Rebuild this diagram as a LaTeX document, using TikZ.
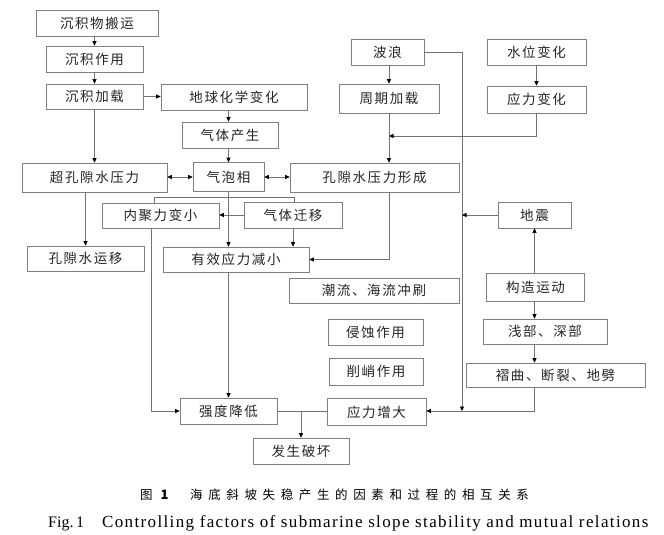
\documentclass[tikz,border=0pt]{standalone}
\usepackage{fontspec}
\setmainfont{Liberation Serif}
\newfontfamily\capfont{Liberation Serif}[LetterSpace=8]
\newfontfamily\cjk{Noto Sans CJK SC}[LetterSpace=12]
\newfontfamily\cjkcap{Noto Sans CJK SC}[LetterSpace=45]
\newfontfamily\cjkplain{Noto Sans CJK SC}
\usetikzlibrary{arrows.meta}
\begin{document}
\begin{tikzpicture}[x=1pt,y=-1pt,
  box/.style={draw=black!50, line width=0.6pt, inner sep=0pt, font=\cjk\fontsize{13.5}{15}\selectfont, text=black!85},
  ln/.style={draw=black!55, line width=0.6pt},
  arr/.style={ln, -{Triangle[length=4.5pt,width=4pt,color=black]}},
  darr/.style={ln, {Triangle[length=4.5pt,width=4pt,color=black]}-{Triangle[length=4.5pt,width=4pt,color=black]}},
  sz/.style 2 args={minimum width=#1pt, minimum height=#2pt}]
\useasboundingbox (0,0) rectangle (664,535);
\fill[white] (0,0) rectangle (664,535);

% boxes
\node[box,sz={122}{26}] (dep1) at (97,23) {沉积物搬运};
\node[box,sz={97}{26}]  (dep2) at (94.5,59) {沉积作用};
\node[box,sz={97}{25}]  (dep3) at (94.5,96.5) {沉积加载};
\node[box,sz={146}{26}] (geo)  at (234,97) {地球化学变化};
\node[box,sz={96}{26}]  (gas)  at (230,135) {气体产生};
\node[box,sz={145}{29}] (epp)  at (94.5,177.5) {超孔隙水压力};
\node[box,sz={71}{29}]  (bub)  at (228.5,177) {气泡相};
\node[box,sz={169}{29}] (ppf)  at (374.5,177.5) {孔隙水压力形成};
\node[box,sz={73}{26}]  (wave) at (387.5,52) {波浪};
\node[box,sz={100}{29}] (cyc)  at (389,98.5) {周期加载};
\node[box,sz={99}{26}]  (wl)   at (536.5,52) {水位变化};
\node[box,sz={99}{27}]  (sc)   at (536.5,99.5) {应力变化};
\node[box,sz={117}{25}] (coh)  at (160.5,215.5) {内聚力变小};
\node[box,sz={98}{26}]  (gm)   at (293,215) {气体迁移};
\node[box,sz={117}{25}] (pwm)  at (85.5,258.5) {孔隙水运移};
\node[box,sz={146}{25}] (eff)  at (236,259.5) {有效应力减小};
\node[box,sz={73}{26}]  (eq)   at (534.5,215) {地震};
\node[box,sz={98}{28}]  (tec)  at (535.5,287) {构造运动};
\node[box,sz={170}{25}] (tide) at (374,290.5) {潮流、海流冲刷};
\node[box,sz={95}{26}]  (ero)  at (375.5,332) {侵蚀作用};
\node[box,sz={124}{25}] (sd)   at (545,331.5) {浅部、深部};
\node[box,sz={94}{27}]  (cut)  at (376,371.5) {削峭作用};
\node[box,sz={179}{24}] (fold) at (555.5,375) {褶曲、断裂、地劈};
\node[box,sz={97}{26}]  (str)  at (228.5,411) {强度降低};
\node[box,sz={99}{27}]  (si)   at (376.5,412) {应力增大};
\node[box,sz={96}{26}]  (fail) at (301,451) {发生破坏};

% helper coordinates
\coordinate (brL) at (154,197);
\coordinate (brR) at (294,197);
\coordinate (vx)  at (462,411);
\coordinate (jn)  at (389,136);

% connectors
\draw[arr] (dep2.north |- dep1.south) -- (dep2.north);
\draw[arr] (dep2.south) -- (dep3.north);
\draw[arr] (dep3.east) -- (dep3.east -| geo.west);
\draw[arr] (dep3.south) -- (dep3.south |- epp.north);
\draw[arr] (bub.north |- geo.south) -- (bub.north |- gas.north);
\draw[arr] (bub.north |- gas.south) -- (bub.north);
\draw[darr] (bub.west -| epp.east) -- (bub.west);
\draw[darr] (bub.east) -- (bub.east -| ppf.west);
\draw[arr] (bub.south) -- (bub.south |- eff.north);
\draw[ln] (coh.north -| brL) -- (brL) -- (brR) -- (gm.north -| brR);
\draw[arr] (gm.west) -- (gm.west -| coh.east);
\draw[arr] (gm.south) -- (gm.south |- eff.north);
\draw[arr] (ppf.south -| cyc.south) -- (cyc.south |- eff.east) -- (eff.east);
\draw[arr] (epp.south -| pwm.north) -- (pwm.north);
\draw[arr] ([xshift=-9pt]coh.south) -- ([xshift=-9pt]coh.south |- str.west) -- (str.west);
\draw[arr] (eff.south -| str.north) -- (str.north);
\draw[ln] (str.east) -- (str.east -| si.west);
\draw[arr] (str.east -| fail.north) -- (fail.north);
\draw[arr] (wave.east) -- (wave.east -| vx) -- (vx);
\draw[arr] (cyc.north |- wave.south) -- (cyc.north);
\draw[arr] (wl.south) -- (wl.south |- sc.north);
\draw[arr] (sc.south) -- (sc.south |- jn) -- (jn);
\draw[arr] (cyc.south) -- (cyc.south |- ppf.north);
\draw[arr] (eq.west) -- (eq.west -| vx);
\draw[arr] (eq.south |- tec.north) -- (eq.south);
\draw[arr] (eq.south |- tec.south) -- (eq.south |- sd.north);
\draw[arr] (eq.south |- sd.south) -- (eq.south |- fold.north);
\draw[arr] (eq.south |- fold.south) -- (eq.south |- vx) -- (vx -| si.east);

% caption
\node[anchor=base west, inner sep=0pt, font=\cjkplain\fontsize{12.5}{14}\selectfont] (capfig) at (140,499) {图\hspace{8pt}\textbf{\fontsize{13}{14}\selectfont 1}};
\node[anchor=base west, inner sep=0pt, font=\cjkcap\fontsize{12.5}{14}\selectfont] (capcn) at (190,499) {海底斜坡失稳产生的因素和过程的相互关系};
\node[anchor=base west, inner sep=0pt, font=\fontsize{16}{18}\selectfont] (capfig2) at (48,527) {Fig.\,1};
\node[anchor=base west, inner sep=0pt, font=\capfont\fontsize{17}{19}\selectfont] (capen) at (102,527) {Controlling factors of submarine slope stability and mutual relations};
\end{tikzpicture}
\end{document}
